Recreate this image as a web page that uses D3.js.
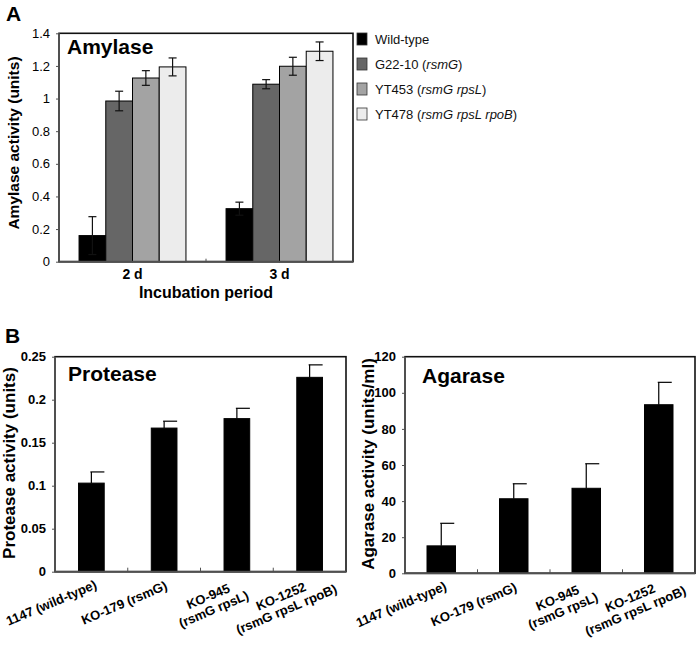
<!DOCTYPE html>
<html><head><meta charset="utf-8">
<script src="https://cdn.jsdelivr.net/npm/d3@7"></script>
<style>body{margin:0;background:#fff}svg{display:block;font-family:"Liberation Sans",Arial,sans-serif}</style>
</head><body><svg id="c" width="700" height="645"></svg>
<script>
// ---------- data ----------
const periods = ["2 d", "3 d"];
const strains = ["Wild-type", "G22-10", "YT453", "YT478"];
const strainGenes = ["", "rsmG", "rsmG rpsL", "rsmG rpsL rpoB"];
const amylase2d = [0.16, 0.985, 1.126, 1.194];
const amylase3d = [0.325, 1.088, 1.198, 1.29];
const amylaseErr2d = [0.116, 0.06, 0.045, 0.055];
const amylaseErr3d = [0.04, 0.028, 0.055, 0.057];
const amylaseTicks = [0, 0.2, 0.4, 0.6, 0.8, 1, 1.2, 1.4];

const mutants = [["1147 (wild-type)"], ["KO-179 (rsmG)"], ["KO-945", "(rsmG rpsL)"], ["KO-1252", "(rsmG rpsL rpoB)"]];
const protease = [0.103, 0.167, 0.178, 0.226];
const proteaseErr = [0.013, 0.008, 0.012, 0.0145];
const proteaseTicks = [0, 0.05, 0.1, 0.15, 0.2, 0.25];
const agarase = [15.2, 41.3, 47.1, 93.4];
const agaraseErr = [12.5, 8.3, 13.6, 12.4];
const agaraseTicks = [0, 20, 40, 60, 80, 100, 120];

const strainColors = ["#000000", "#666666", "#a3a3a3", "#ececec"];

// ---------- drawing ----------
const svg = d3.select("#c");
const axisGray = "#505050";

svg.append("text").attr("x", 6).attr("y", 21).attr("font-size", 21).attr("font-weight", "bold").text("A");
svg.append("text").attr("x", 5).attr("y", 343).attr("font-size", 21).attr("font-weight", "bold").text("B");

// ---------- Panel A ----------
{
  const L = 59, R = 353, T = 33.3, B = 261.7;
  const x0 = d3.scaleBand().domain(periods).range([L, R]);
  const x1 = d3.scaleBand().domain(strains).range([0, x0.bandwidth()]).paddingOuter(0.75);
  const y = d3.scaleLinear().domain([0, 1.4]).range([B, T]);
  const vals = [amylase2d, amylase3d];
  const errs = [amylaseErr2d, amylaseErr3d];

  const g = svg.append("g");
  g.append("rect").attr("x", L).attr("y", T).attr("width", R - L).attr("height", B - T)
    .attr("fill", "none").attr("stroke", "#111").attr("stroke-width", 1.6);

  periods.forEach((p, pi) => {
    strains.forEach((s, si) => {
      const v = vals[pi][si];
      g.append("rect").attr("x", x0(p) + x1(s)).attr("y", y(v))
        .attr("width", x1.bandwidth()).attr("height", y(0) - y(v))
        .attr("fill", strainColors[si]).attr("stroke", "#000").attr("stroke-width", 1);
    });
  });
  periods.forEach((p, pi) => {
    strains.forEach((s, si) => {
      const v = vals[pi][si], e = errs[pi][si];
      const cx = x0(p) + x1(s) + x1.bandwidth() / 2;
      g.append("line").attr("x1", cx).attr("x2", cx).attr("y1", y(v - e)).attr("y2", y(v + e)).attr("stroke", "#111").attr("stroke-width", 1.2);
      [v - e, v + e].forEach(w => g.append("line").attr("x1", cx - 4).attr("x2", cx + 4).attr("y1", y(w)).attr("y2", y(w)).attr("stroke", "#111").attr("stroke-width", 1.2));
    });
  });

  const ya = g.append("g").attr("transform", `translate(${L},0)`)
    .call(d3.axisLeft(y).tickValues(amylaseTicks).tickSize(3).tickPadding(6).tickFormat(d => String(+d.toFixed(2))));
  ya.select(".domain").remove();
  ya.selectAll("line").attr("stroke", axisGray);
  ya.selectAll("text").attr("font-size", 13).attr("font-family", "Liberation Sans, Arial, sans-serif").attr("fill", "#000");
  g.append("line").attr("x1", L).attr("x2", L).attr("y1", T).attr("y2", B).attr("stroke", axisGray).attr("stroke-width", 2);
  g.append("line").attr("x1", L).attr("x2", R).attr("y1", B).attr("y2", B).attr("stroke", axisGray).attr("stroke-width", 2);
  periods.slice(1).forEach(p => g.append("line").attr("x1", x0(p)).attr("x2", x0(p)).attr("y1", B).attr("y2", B - 3).attr("stroke", axisGray));
  periods.forEach(p => g.append("text").attr("x", x0(p) + x0.bandwidth() / 2).attr("y", 279)
    .attr("text-anchor", "middle").attr("font-size", 14).attr("font-weight", "bold").text(p));
  g.append("text").attr("x", (L + R) / 2).attr("y", 298).attr("text-anchor", "middle")
    .attr("font-size", 16).attr("font-weight", "bold").text("Incubation period");
  g.append("text").attr("transform", "translate(19,143) rotate(-90)").attr("text-anchor", "middle")
    .attr("font-size", 15.5).attr("font-weight", "bold").text("Amylase activity (units)");
  g.append("text").attr("x", 67).attr("y", 54).attr("font-size", 21).attr("font-weight", "bold").text("Amylase");

  strains.forEach((s, i) => {
    const cy = 39 + i * 25;
    g.append("rect").attr("x", 357).attr("y", cy - 6).attr("width", 10).attr("height", 12)
      .attr("fill", strainColors[i]).attr("stroke", "#333").attr("stroke-width", 0.8);
    const t = g.append("text").attr("x", 375).attr("y", cy + 4.5).attr("font-size", 13).attr("fill", "#111");
    if (strainGenes[i]) {
      t.append("tspan").text(s + " (");
      t.append("tspan").attr("font-style", "italic").text(strainGenes[i]);
      t.append("tspan").text(")");
    } else t.text(s);
  });
}

// ---------- Panel B ----------
function panelB(cfg) {
  const { L, R, T, B, domainMax, ticks, values, errors, pad, title, titleX, titleY, ylabel, ylabelX, ylabelY } = cfg;
  const cats = mutants.map(m => m.join(" "));
  const x = d3.scaleBand().domain(cats).range([L, R]).paddingInner(pad).paddingOuter(pad / 2);
  const y = d3.scaleLinear().domain([0, domainMax]).range([B, T]);
  const g = svg.append("g");
  g.append("rect").attr("x", L).attr("y", T).attr("width", R - L).attr("height", B - T)
    .attr("fill", "none").attr("stroke", "#111").attr("stroke-width", 1.6);
  cats.forEach((c, i) => {
    const v = values[i], e = errors[i];
    const cx = x(c) + x.bandwidth() / 2;
    g.append("rect").attr("x", x(c)).attr("y", y(v)).attr("width", x.bandwidth()).attr("height", y(0) - y(v))
      .attr("fill", "#000").attr("stroke", "#000").attr("stroke-width", 1);
    g.append("line").attr("x1", cx).attr("x2", cx).attr("y1", y(v)).attr("y2", y(v + e)).attr("stroke", "#000").attr("stroke-width", 1.2);
    g.append("line").attr("x1", cx - 1).attr("x2", cx + 13).attr("y1", y(v + e)).attr("y2", y(v + e)).attr("stroke", "#000").attr("stroke-width", 1.2);
  });
  const ya = g.append("g").attr("transform", `translate(${L},0)`)
    .call(d3.axisLeft(y).tickValues(ticks).tickSize(3).tickPadding(6).tickFormat(d => String(+d.toFixed(2))));
  ya.select(".domain").remove();
  ya.selectAll("line").attr("stroke", axisGray);
  ya.selectAll("text").attr("font-size", 13).attr("font-weight", "bold").attr("font-family", "Liberation Sans, Arial, sans-serif").attr("fill", "#000");
  g.append("line").attr("x1", L).attr("x2", L).attr("y1", T).attr("y2", B).attr("stroke", axisGray).attr("stroke-width", 2);
  g.append("line").attr("x1", L).attr("x2", R).attr("y1", B).attr("y2", B).attr("stroke", axisGray).attr("stroke-width", 2);
  const step = x.step();
  cats.slice(1).forEach(c => {
    const bx = x(c) - step * pad / 2;
    g.append("line").attr("x1", bx).attr("x2", bx).attr("y1", B).attr("y2", B - 4).attr("stroke", axisGray);
  });
  // rotated category labels, each line rotated about its own centre
  const ang = 23, rad = ang * Math.PI / 180, lh = 14;
  mutants.forEach((lines, i) => {
    const n = lines.length;
    const bx = x(cats[i]) + x.bandwidth() / 2 - 40 + 14 * (n - 1);
    const by = B + 31;
    lines.forEach((t, li) => {
      const v = (li - (n - 1) / 2) * lh;
      const px = bx + v * Math.sin(rad), py = by + v * Math.cos(rad);
      g.append("text")
        .attr("transform", `translate(${px},${py}) rotate(${-ang})`)
        .attr("dy", "0.35em")
        .attr("text-anchor", "middle").attr("font-size", 13).attr("font-weight", "bold").attr("fill", "#000").text(t);
    });
  });
  g.append("text").attr("x", titleX).attr("y", titleY).attr("font-size", 21).attr("font-weight", "bold").text(title);
  g.append("text").attr("transform", `translate(${ylabelX},${ylabelY}) rotate(-90)`).attr("text-anchor", "middle")
    .attr("font-size", 17).attr("font-weight", "bold").text(ylabel);
}

panelB({ L: 55, R: 346, T: 356.7, B: 571.7, domainMax: 0.25, ticks: proteaseTicks, values: protease, errors: proteaseErr,
  pad: 0.647, title: "Protease", titleX: 68, titleY: 381, ylabel: "Protease activity (units)", ylabelX: 15, ylabelY: 463 });
panelB({ L: 405, R: 695, T: 356.7, B: 573.3, domainMax: 120, ticks: agaraseTicks, values: agarase, errors: agaraseErr,
  pad: 0.607, title: "Agarase", titleX: 422, titleY: 383, ylabel: "Agarase activity (units/ml)", ylabelX: 374, ylabelY: 464 });
</script></body></html>
